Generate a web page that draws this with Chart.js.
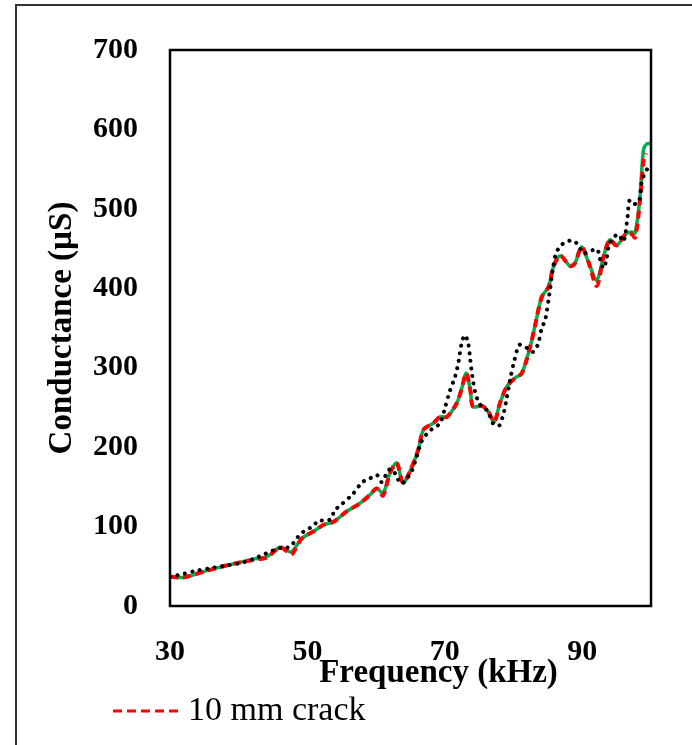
<!DOCTYPE html>
<html>
<head>
<meta charset="utf-8">
<script src="https://cdn.jsdelivr.net/npm/chart.js@4.4.1/dist/chart.umd.min.js"></script>
<style>
  html, body { margin: 0; padding: 0; background: #fff; }
  #wrap { position: relative; width: 692px; height: 745px; overflow: hidden; }
  #frame { position: absolute; left: 15px; top: 4px; width: 720px; height: 780px;
           border-left: 2px solid #333; border-top: 2px solid #333; }
  canvas { position: absolute; left: 0; top: 0; }
</style>
</head>
<body>
<div id="wrap"><div id="frame"></div><canvas id="chart" width="692" height="745"></canvas></div>
<script>
// frequency axis (kHz) and conductance values (µS)
const xTicks = [30, 50, 70, 90];
const yTicks = [0, 100, 200, 300, 400, 500, 600, 700];

const pristineFreq = [30, 31.9, 34.8, 37.3, 39.7, 42.1, 44.1, 46, 47, 47.7, 49.2, 50.9, 52.3, 53.8, 55.7,
  57.6, 59.1, 60.1, 61, 62, 63, 63.9, 64.9, 66.1, 66.9, 68.3, 69.3, 70.3, 71.7, 72.4, 73.1, 73.7, 74.1,
  75.4, 76.3, 77.2, 78, 79, 80.2, 81.2, 82.4, 83.1, 84.1, 85.1, 85.8, 86.8, 88.2, 88.9, 89.9, 90.9,
  92.1, 93.1, 94, 95, 96.4, 97.2, 97.7, 98.4, 98.9, 99.4, 100];
const pristineG = [37, 36, 43, 49, 54, 59, 62, 74, 70, 68, 85, 94, 102, 106, 119,
  129, 140, 148, 142, 167, 180, 155, 169, 196, 222, 230, 238, 238, 255, 272, 293, 272, 251,
  252, 245, 232, 255, 276, 287, 293, 326, 352, 389, 402, 427, 441, 428, 431, 452, 433,
  410, 440, 461, 454, 469, 471, 470, 515, 574, 582, 582];

const crack10Freq = [30, 31.9, 34.8, 37.3, 39.7, 42.1, 44.1, 46, 47, 47.7, 49.2, 50.9, 52.3, 53.8, 55.7,
  57.6, 59.1, 60.1, 61, 62, 63, 63.9, 64.9, 66.1, 66.9, 68.3, 69.3, 70.3, 71.7, 72.4, 73.1, 73.7, 74.1,
  75.4, 76.3, 77.2, 78, 79, 80.2, 81.2, 82.4, 83.1, 84.1, 85.1, 85.8, 86.8, 88.2, 88.9, 89.9, 90.9,
  92.1, 93.1, 94, 95, 96.4, 97.2, 97.7, 98.4, 98.9, 99.3];
const crack10G = [37, 36, 43, 49, 54, 58, 61, 74, 69, 65, 85, 94, 102, 106, 119,
  129, 140, 148, 139, 167, 180, 155, 169, 196, 222, 230, 238, 238, 255, 272, 293, 272, 251,
  252, 245, 232, 255, 276, 287, 293, 326, 352, 389, 402, 427, 441, 428, 431, 452, 433,
  403, 440, 461, 454, 469, 468, 464, 510, 560, 570];

const crack20Freq = [30, 31.2, 33.6, 36.1, 38.2, 40.7, 42.9, 45, 46.5, 47.4, 48.2, 48.9, 49.9, 50.9, 51.6,
  52.5, 53.5, 53.9, 54.7, 56.5, 58, 59, 60.1, 60.8, 61.8, 62.4, 63, 63.7, 64.5, 65.2, 65.9, 66.6, 67.4,
  68.3, 69.3, 70, 70.7, 71.5, 72, 72.4, 72.9, 73.4, 73.7, 74, 74.4, 74.9, 75.6, 76.2, 77, 77.9, 78.4,
  78.9, 79.5, 80, 80.9, 82.1, 82.9, 83.6, 84.1, 84.6, 85.2, 85.7, 86.1, 86.7, 87.5, 88.7, 89.6, 90.1,
  91.5, 92.2, 92.5, 93.1, 93.5, 94, 95.2, 96, 96.6, 96.9, 97.7, 98.3, 98.6, 99, 99.5];
const crack20G = [37, 39, 44, 48, 51, 55, 62, 70, 74, 74, 82, 90, 96, 101, 108,
  107, 110, 120, 126, 140, 156, 160, 165, 156, 171, 172, 162, 154, 161, 170, 188, 207, 217,
  224, 230, 249, 270, 289, 308, 329, 341, 331, 310, 289, 270, 257, 249, 246, 230, 227, 238,
  257, 285, 305, 329, 324, 320, 331, 350, 360, 392, 423, 442, 452, 458, 460, 452, 444,
  448, 449, 439, 425, 436, 457, 468, 459, 491, 511, 506, 511, 532, 543, 551];

const toPoints = (xs, ys) => xs.map((x, i) => ({ x: x, y: ys[i] }));

const serif = "'Liberation Serif', 'Times New Roman', serif";

// border round the plot area
const plotBorder = {
  id: 'plotBorder',
  afterDatasetsDraw(chart) {
    const { ctx, chartArea: a } = chart;
    ctx.save();
    ctx.strokeStyle = '#000';
    ctx.lineWidth = 2.5;
    ctx.strokeRect(a.left, a.top, a.right - a.left, a.bottom - a.top);
    ctx.restore();
  }
};

// x axis title and the single legend entry under the plot
const bottomText = {
  id: 'bottomText',
  afterDraw(chart) {
    const { ctx, chartArea: a } = chart;
    const ds = chart.data.datasets[1];
    ctx.save();
    ctx.fillStyle = '#000';
    ctx.font = 'bold 33px ' + serif;
    ctx.textAlign = 'center';
    ctx.textBaseline = 'middle';
    ctx.fillText('Frequency (kHz)', (a.left + a.right) / 2 + 28, a.bottom + 67);

    const ly = a.bottom + 105;
    ctx.strokeStyle = ds.borderColor;
    ctx.lineWidth = 3;
    ctx.setLineDash([9, 5]);
    ctx.beginPath();
    ctx.moveTo(113, ly);
    ctx.lineTo(183, ly);
    ctx.stroke();
    ctx.font = '34px ' + serif;
    ctx.textAlign = 'left';
    ctx.fillText(ds.label, 188, ly);
    ctx.restore();
  }
};

new Chart(document.getElementById('chart'), {
  type: 'line',
  data: {
    datasets: [
      {
        label: '20 mm crack',
        data: toPoints(crack20Freq, crack20G),
        borderColor: '#000000',
        borderWidth: 4,
        borderDash: [0.1, 7.5],
        borderCapStyle: 'round',
        tension: 0.3
      },
      {
        label: '10 mm crack',
        data: toPoints(crack10Freq, crack10G),
        borderColor: '#ff0000',
        borderWidth: 4,
        borderDash: [8, 5],
        tension: 0.3
      },
      {
        label: 'Pristine',
        data: toPoints(pristineFreq, pristineG),
        borderColor: '#00b050',
        borderWidth: 3.5,
        tension: 0.3
      }
    ]
  },
  options: {
    responsive: false,
    animation: false,
    layout: { padding: { top: 50, right: 41, left: 0, bottom: 0 } },
    elements: { point: { radius: 0 } },
    plugins: { legend: { display: false }, tooltip: { enabled: false } },
    scales: {
      x: {
        type: 'linear',
        min: 30,
        max: 100,
        afterFit: s => { s.height = 139; },
        afterBuildTicks: s => { s.ticks = xTicks.map(v => ({ value: v })); },
        grid: { display: false, drawTicks: false },
        border: { display: false },
        ticks: { padding: 28, color: '#000', font: { family: serif, size: 30, weight: 'bold' } }
      },
      y: {
        min: 0,
        max: 700,
        afterFit: s => { s.width = 170; },
        afterBuildTicks: s => { s.ticks = yTicks.map(v => ({ value: v })); },
        grid: { display: false, drawTicks: false },
        border: { display: false },
        ticks: { padding: 32, color: '#000', font: { family: serif, size: 30, weight: 'bold' } },
        title: {
          display: true,
          text: 'Conductance (µS)',
          color: '#000',
          padding: { top: 43, bottom: 0 },
          font: { family: serif, size: 33, weight: 'bold' }
        }
      }
    }
  },
  plugins: [plotBorder, bottomText]
});
</script>
</body>
</html>
